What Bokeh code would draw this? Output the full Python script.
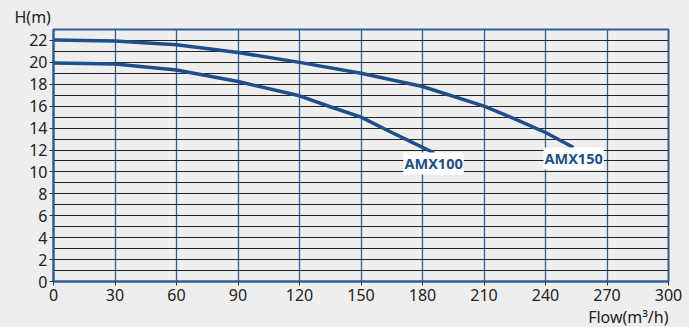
from bokeh.plotting import figure
from bokeh.models import Label, FixedTicker, Range1d, Title
from bokeh.embed import file_html
from bokeh.resources import INLINE

# Data
flow_amx100 = [0, 30, 60, 90, 120, 135, 150, 165, 175, 185]
head_amx100 = [19.95, 19.85, 19.3, 18.25, 16.95, 15.95, 15.0, 13.6, 12.7, 11.8]

flow_amx150 = [0, 30, 60, 90, 120, 150, 180, 210, 225, 240, 253]
head_amx150 = [22.05, 21.95, 21.6, 20.9, 20.0, 19.0, 17.8, 16.0, 14.85, 13.6, 12.3]

x_ticks = [0, 30, 60, 90, 120, 150, 180, 210, 240, 270, 300]
y_ticks = [0, 2, 4, 6, 8, 10, 12, 14, 16, 18, 20, 22]
y_grid = list(range(0, 24))

BG = "#eeeeee"
BLUE = "#1d4f8a"
GRIDBLUE = "#2f5f96"
FONT = "Noto Sans"

p = figure(width=689, height=327, output_backend="svg", toolbar_location=None,
           x_range=Range1d(0, 300), y_range=Range1d(0, 23),
           min_border_left=53, min_border_right=21, min_border_top=29, min_border_bottom=46)
p.background_fill_color = BG
p.border_fill_color = BG
p.outline_line_color = GRIDBLUE
p.outline_line_width = 2

p.xaxis.ticker = FixedTicker(ticks=x_ticks)
p.yaxis.ticker = FixedTicker(ticks=y_ticks)
for ax in (p.xaxis[0], p.yaxis[0]):
    ax.axis_line_color = GRIDBLUE
    ax.axis_line_width = 2
    ax.major_tick_line_color = "#333333"
    ax.major_tick_in = 0
    ax.major_tick_out = 4
    ax.minor_tick_line_color = None
    ax.major_label_text_font = FONT
    ax.major_label_text_font_size = "16px"
    ax.major_label_text_color = "#222222"
p.xaxis.major_label_standoff = 3
p.yaxis.major_label_standoff = 2

p.xgrid.ticker = FixedTicker(ticks=x_ticks)
p.xgrid.grid_line_color = GRIDBLUE
p.xgrid.grid_line_width = 1.3
p.ygrid.ticker = FixedTicker(ticks=y_grid)
p.ygrid.grid_line_color = "#222222"
p.ygrid.grid_line_width = 1.2

p.line(flow_amx150, head_amx150, line_color=BLUE, line_width=3.5,
       line_cap="round", line_join="round")
p.line(flow_amx100, head_amx100, line_color=BLUE, line_width=3.5,
       line_cap="round", line_join="round")

for txt, x, y in [("AMX100", 185.4, 10.77), ("AMX150", 253.7, 11.23)]:
    p.add_layout(Label(x=x, y=y, text=txt, text_align="center", text_baseline="middle",
                       text_font=FONT, text_font_style="bold", text_font_size="14.5px",
                       text_color=BLUE, background_fill_color="white", padding=1))

p.add_layout(Title(text="H(m)", align="left", offset=-39, text_font=FONT,
                   text_font_size="16px", text_font_style="normal",
                   text_color="#222222", standoff=3), "above")
p.add_layout(Title(text="Flow(m³/h)", align="right", text_font=FONT,
                   text_font_size="16px", text_font_style="normal",
                   text_color="#222222", standoff=0), "below")

html = file_html(p, INLINE)
html = html.replace("<head>", "<head><style>body{background:#eeeeee;}</style>", 1)
open("out.html", "w").write(html)
